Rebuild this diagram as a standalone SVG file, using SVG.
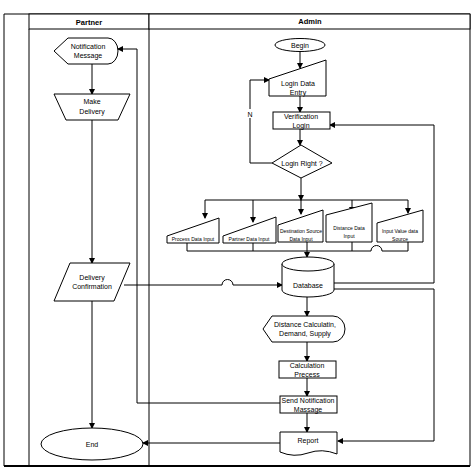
<svg xmlns="http://www.w3.org/2000/svg" width="474" height="469" viewBox="0 0 474 469">
<style>
.s{fill:#fff;stroke:#000;stroke-width:1}
.c{fill:none;stroke:#000;stroke-width:1}
.t{font-family:"Liberation Sans",Arial,sans-serif;font-size:7px;fill:#000;text-anchor:middle}
.ts{font-family:"Liberation Sans",Arial,sans-serif;font-size:5px;fill:#000;text-anchor:middle}
.h{font-family:"Liberation Sans",Arial,sans-serif;font-size:7.5px;font-weight:bold;fill:#000;text-anchor:middle}
</style>
<defs>
<marker id="a" markerWidth="6" markerHeight="6" refX="5" refY="3" orient="auto" markerUnits="userSpaceOnUse">
<path d="M0,0 L6,3 L0,6 Z" fill="#000"/>
</marker>
</defs>
<rect width="474" height="469" fill="#fff"/>
<g id="lanes">
<path class="c" d="M4,14 H470 V466 M4,14 V466"/>
<line x1="4" y1="466" x2="470" y2="466" stroke="#000" stroke-width="2"/>
<rect class="s" x="29" y="14" width="120" height="15"/>
<rect class="s" x="149" y="14" width="321" height="15"/>
<line class="c" x1="29" y1="29" x2="29" y2="466"/>
<line class="c" x1="149" y1="29" x2="149" y2="466"/>
<text class="h" x="89" y="24.5">Partner</text>
<text class="h" x="310" y="24">Admin</text>
</g>
<g id="connectors">
<line class="c" x1="92" y1="64" x2="92" y2="94" marker-end="url(#a)"/>
<line class="c" x1="92" y1="120" x2="92" y2="263" marker-end="url(#a)"/>
<line class="c" x1="92" y1="301" x2="92" y2="428" marker-end="url(#a)"/>
<path class="c" d="M124,285 H222 A5.5,5.5 0 0 1 233,285 H282" marker-end="url(#a)"/>
<line class="c" x1="300" y1="51" x2="300" y2="68" marker-end="url(#a)"/>
<line class="c" x1="300" y1="96" x2="300" y2="112" marker-end="url(#a)"/>
<line class="c" x1="300" y1="129" x2="300" y2="145" marker-end="url(#a)"/>
<path class="c" d="M272,163 H250 V80 H269" marker-end="url(#a)"/>
<rect x="246" y="109" width="8" height="9" fill="#fff"/>
<text class="t" x="250" y="116.5">N</text>
<line class="c" x1="301" y1="178" x2="301" y2="200" marker-end="url(#a)"/>
<path class="c" d="M205,200 H408"/>
<line class="c" x1="205" y1="200" x2="205" y2="218" marker-end="url(#a)"/>
<line class="c" x1="253" y1="200" x2="253" y2="222" marker-end="url(#a)"/>
<line class="c" x1="301" y1="200" x2="301" y2="214" marker-end="url(#a)"/>
<line class="c" x1="352" y1="200" x2="352" y2="212" marker-end="url(#a)"/>
<line class="c" x1="408" y1="200" x2="408" y2="213" marker-end="url(#a)"/>
<path class="c" d="M187,243 V251 H371 A5.5,5.5 0 0 1 382,251 H408 V242"/>
<line class="c" x1="253" y1="243" x2="253" y2="251"/>
<line class="c" x1="352" y1="242" x2="352" y2="251"/>
<line class="c" x1="307" y1="242" x2="307" y2="257" marker-end="url(#a)"/>
<path class="c" d="M334,283 H434 V125 H330" marker-end="url(#a)"/>
<path class="c" d="M334,289 H434 V441 H338" marker-end="url(#a)"/>
<line class="c" x1="307" y1="297" x2="307" y2="316" marker-end="url(#a)"/>
<line class="c" x1="307" y1="342" x2="307" y2="361" marker-end="url(#a)"/>
<line class="c" x1="307" y1="378" x2="307" y2="396" marker-end="url(#a)"/>
<line class="c" x1="307" y1="413" x2="307" y2="432" marker-end="url(#a)"/>
<path class="c" d="M280,403 H137 V49 H118" marker-end="url(#a)"/>
<path class="c" d="M280,443 H143" marker-end="url(#a)"/>
</g>
<g id="notification-message">
<path class="s" d="M54,51 L68,38 H108 A10,13 0 0 1 108,64 H68 Z"/>
<text class="t" x="88" y="49">Notification</text>
<text class="t" x="88" y="58">Message</text>
</g>
<g id="make-delivery">
<path class="s" d="M54,94 H130 L118,120 H66 Z"/>
<text class="t" x="92" y="104">Make</text>
<text class="t" x="92" y="114">Delivery</text>
</g>
<g id="delivery-confirmation">
<path class="s" d="M70,263 H130 L114,301 H54 Z"/>
<text class="t" x="92" y="280">Delivery</text>
<text class="t" x="92" y="289">Confirmation</text>
</g>
<g id="end">
<ellipse class="s" cx="92" cy="444" rx="51" ry="16"/>
<text class="t" x="92" y="446.5">End</text>
</g>
<g id="begin">
<ellipse class="s" cx="300" cy="45" rx="25" ry="6.5"/>
<text class="t" x="300" y="47.5">Begin</text>
</g>
<g id="login-data-entry">
<path class="s" d="M269,79 L326,60 V96 H269 Z"/>
<text class="t" x="298" y="86">Login Data</text>
<text class="t" x="298" y="95">Entry</text>
</g>
<g id="verification-login">
<rect class="s" x="273" y="112" width="57" height="17"/>
<text class="t" x="301" y="119">Verification</text>
<text class="t" x="301" y="128">Login</text>
</g>
<g id="login-right">
<path class="s" d="M301,145 L332,163 L301,178 L272,163 Z"/>
<text class="t" x="302" y="165.5">Login Right ?</text>
</g>
<g id="process-data-input">
<path class="s" d="M167,236 L219,218 V243 H167 Z"/>
<text class="ts" x="193" y="241">Process Data Input</text>
</g>
<g id="partner-data-input">
<path class="s" d="M223,236 L276,217 V243 H223 Z"/>
<text class="ts" x="249" y="241">Partner Data Input</text>
</g>
<g id="destination-source-data-input">
<path class="s" d="M278,225 L323,210 V242 H278 Z"/>
<text class="ts" x="301" y="233">Destination Source</text>
<text class="ts" x="301" y="241">Data Input</text>
</g>
<g id="distance-data-input">
<path class="s" d="M326,215 L372,203 V242 H326 Z"/>
<text class="ts" x="349" y="230">Distance Data</text>
<text class="ts" x="349" y="238">Input</text>
</g>
<g id="input-value-data-source">
<path class="s" d="M377,223 L423,210 V242 H377 Z"/>
<text class="ts" x="400" y="233">Input Value data</text>
<text class="ts" x="400" y="241">Source</text>
</g>
<g id="database">
<path class="s" d="M282,264 V290 A26,7 0 0 0 334,290 V264"/>
<ellipse class="s" cx="308" cy="264" rx="26" ry="7"/>
<text class="t" x="308" y="288">Database</text>
</g>
<g id="distance-calculation">
<path class="s" d="M263,329 L272,316 H333 A12,13 0 0 1 333,342 H272 Z"/>
<text class="t" x="305" y="327">Distance Calculatin,</text>
<text class="t" x="305" y="336">Demand, Supply</text>
</g>
<g id="calculation-process">
<rect class="s" x="279" y="361" width="57" height="17"/>
<text class="t" x="307" y="368">Calculation</text>
<text class="t" x="307" y="377">Precess</text>
</g>
<g id="send-notification">
<rect class="s" x="280" y="396" width="57" height="17"/>
<text class="t" x="308" y="403">Send Notification</text>
<text class="t" x="308" y="412">Massage</text>
</g>
<g id="report">
<path class="s" d="M280,432 H337 V454 Q322,448 308,453 Q294,458 280,452 Z"/>
<text class="t" x="308" y="443">Report</text>
</g>
</svg>
